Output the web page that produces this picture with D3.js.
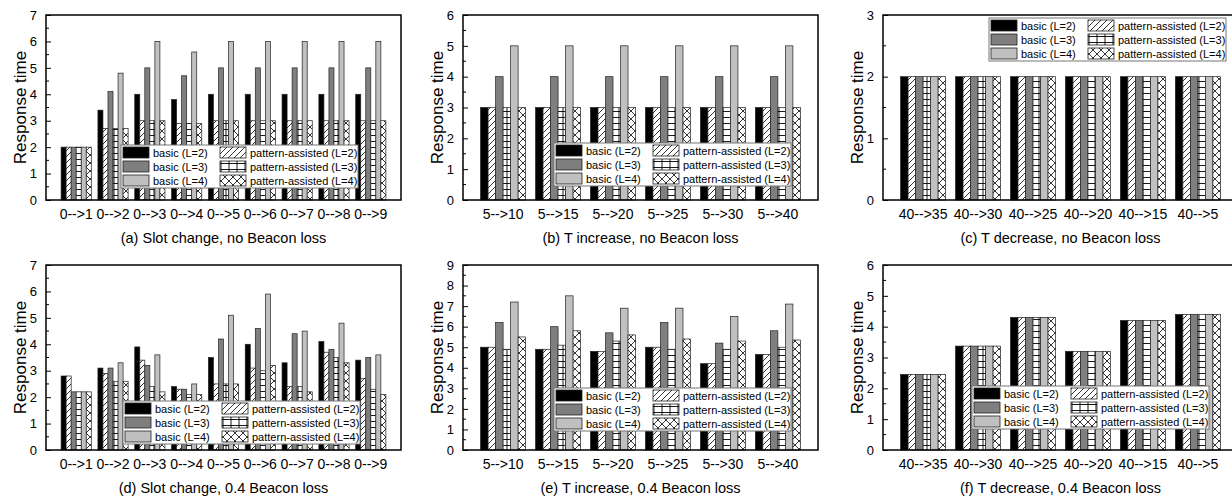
<!DOCTYPE html>
<html>
<head>
<meta charset="utf-8">
<title>response time bars</title>
<script src="https://cdn.jsdelivr.net/npm/d3@7"></script>
<style>
  body{margin:0;background:#fff;}
  text{font-family:Arial,"Liberation Sans",sans-serif;fill:#000;}
</style>
</head>
<body>
<div id="container"></div>
<script>
// series, in the order the bars stand inside a group
var seriesNames = ["basic (L=2)","pattern-assisted (L=2)","basic (L=3)","pattern-assisted (L=3)","basic (L=4)","pattern-assisted (L=4)"];

var slotCats = ["0-->1","0-->2","0-->3","0-->4","0-->5","0-->6","0-->7","0-->8","0-->9"];
var incCats  = ["5-->10","5-->15","5-->20","5-->25","5-->30","5-->40"];
var decCats  = ["40-->35","40-->30","40-->25","40-->20","40-->15","40-->5"];

// one row per category: [basic2, pattern2, basic3, pattern3, basic4, pattern4]
var slotNoLoss = [
  [2,2,2,2,2,2],
  [3.4,2.7,4.1,2.7,4.8,2.7],
  [4,3,5,3,6,3],
  [3.8,2.9,4.7,2.9,5.6,2.9],
  [4,3,5,3,6,3],
  [4,3,5,3,6,3],
  [4,3,5,3,6,3],
  [4,3,5,3,6,3],
  [4,3,5,3,6,3]
];
var incNoLoss = [
  [3,3,4,3,5,3],
  [3,3,4,3,5,3],
  [3,3,4,3,5,3],
  [3,3,4,3,5,3],
  [3,3,4,3,5,3],
  [3,3,4,3,5,3]
];
var decNoLoss = [
  [2,2,2,2,2,2],
  [2,2,2,2,2,2],
  [2,2,2,2,2,2],
  [2,2,2,2,2,2],
  [2,2,2,2,2,2],
  [2,2,2,2,2,2]
];
var slotLoss = [
  [2.8,2.8,2.2,2.2,2.2,2.2],
  [3.1,2.9,3.1,2.6,3.3,2.6],
  [3.9,3.4,3.2,2.4,3.6,2.2],
  [2.4,2.3,2.3,2.1,2.5,2.1],
  [3.5,2.5,4.2,2.5,5.1,2.5],
  [4.0,3.1,4.6,3.0,5.9,3.2],
  [3.3,2.4,4.4,2.4,4.5,2.2],
  [4.1,3.7,3.8,3.5,4.8,3.3],
  [3.4,2.7,3.5,2.3,3.6,2.1]
];
var incLoss = [
  [5.0,5.0,6.2,4.9,7.2,5.5],
  [4.9,4.9,6.0,5.1,7.5,5.8],
  [4.8,4.8,5.7,5.3,6.9,5.6],
  [5.0,5.0,6.2,4.9,6.9,5.4],
  [4.2,4.2,5.2,4.9,6.5,5.3],
  [4.65,4.65,5.8,5.0,7.1,5.35]
];
var decLoss = [
  [2.45,2.45,2.45,2.45,2.45,2.45],
  [3.37,3.37,3.37,3.37,3.37,3.37],
  [4.3,4.3,4.3,4.3,4.3,4.3],
  [3.2,3.2,3.2,3.2,3.2,3.2],
  [4.2,4.2,4.2,4.2,4.2,4.2],
  [4.4,4.4,4.4,4.4,4.4,4.4]
];

var fills = ["#000","url(#hatch)","#7f7f7f","url(#grid)","#c0c0c0","url(#cross)"];

var panels = [
  {cats:slotCats, vals:slotNoLoss, ymax:7, title:"(a) Slot change, no Beacon loss", x:46,  y:15,  outer:0.41, lx:121, ly:145},
  {cats:incCats,  vals:incNoLoss,  ymax:6, title:"(b) T increase, no Beacon loss",  x:463, y:15,  outer:0.32, lx:554, ly:143},
  {cats:decCats,  vals:decNoLoss,  ymax:3, title:"(c) T decrease, no Beacon loss",  x:883, y:15,  outer:0.32, lx:989, ly:18},
  {cats:slotCats, vals:slotLoss,   ymax:7, title:"(d) Slot change, 0.4 Beacon loss", x:46,  y:265, outer:0.41, lx:123, ly:401},
  {cats:incCats,  vals:incLoss,    ymax:9, title:"(e) T increase, 0.4 Beacon loss",  x:463, y:265, outer:0.32, lx:554, ly:388},
  {cats:decCats,  vals:decLoss,    ymax:6, title:"(f) T decrease, 0.4 Beacon loss",  x:883, y:265, outer:0.32, lx:972, ly:386}
];

var W = 355, H = 185;

var svg = d3.select("#container").append("svg")
  .attr("width",1232).attr("height",497);

// fill patterns
var defs = svg.append("defs");
var p1 = defs.append("pattern").attr("id","hatch").attr("patternUnits","userSpaceOnUse").attr("width",6).attr("height",6);
p1.append("rect").attr("width",6).attr("height",6).attr("fill","#fff");
p1.append("path").attr("d","M0,6L6,0M-1,1L1,-1M5,7L7,5").attr("stroke","#000").attr("stroke-width",0.8);
var p2 = defs.append("pattern").attr("id","grid").attr("patternUnits","userSpaceOnUse").attr("width",8).attr("height",6);
p2.append("rect").attr("width",8).attr("height",6).attr("fill","#fff");
p2.append("path").attr("d","M0,0.5H8M4,0V6").attr("stroke","#000").attr("stroke-width",0.9);
var p3 = defs.append("pattern").attr("id","cross").attr("patternUnits","userSpaceOnUse").attr("width",8).attr("height",8);
p3.append("rect").attr("width",8).attr("height",8).attr("fill","#fff");
p3.append("path").attr("d","M0,0L8,8M8,0L0,8").attr("stroke","#000").attr("stroke-width",0.8);

panels.forEach(function(p){
  var g = svg.append("g").attr("transform","translate("+p.x+","+p.y+")");

  var x0 = d3.scaleBand().domain(p.cats).range([0,W]).paddingInner(0.18).paddingOuter(p.outer);
  var x1 = d3.scaleBand().domain(d3.range(seriesNames.length)).range([0,x0.bandwidth()]);
  var y = d3.scaleLinear().domain([0,p.ymax]).range([H,0]);

  // bars
  p.cats.forEach(function(c,i){
    g.selectAll(null).data(p.vals[i]).enter().append("rect")
      .attr("x",function(d,j){return x0(c)+x1(j);})
      .attr("y",function(d){return y(d);})
      .attr("width",x1.bandwidth())
      .attr("height",function(d){return H-y(d);})
      .attr("fill",function(d,j){return fills[j];})
      .attr("stroke","#222")
      .attr("stroke-width",0.7);
  });

  // y axis, ticks pointing in
  var yAxis = d3.axisLeft(y).ticks(p.ymax).tickSizeInner(-5).tickSizeOuter(0).tickPadding(9);
  var ya = g.append("g").call(yAxis);
  ya.select(".domain").remove();
  ya.selectAll(".tick line").attr("stroke","#000").attr("stroke-width",1);
  ya.selectAll(".tick text").style("font-size","13px").attr("fill","#000");
  var minor = d3.range(0.5,p.ymax,1);
  g.selectAll(null).data(minor).enter().append("line")
    .attr("x1",0).attr("x2",3).attr("y1",function(d){return y(d);}).attr("y2",function(d){return y(d);})
    .attr("stroke","#000");

  // category labels
  g.selectAll(null).data(p.cats).enter().append("text")
    .attr("x",function(d){return x0(d)+x0.bandwidth()/2;})
    .attr("y",H+19)
    .attr("text-anchor","middle")
    .style("font-size","14px")
    .text(function(d){return d;});

  // frame
  g.append("rect").attr("width",W).attr("height",H)
    .attr("fill","none").attr("stroke","#000").attr("stroke-width",1.5);

  g.append("text")
    .attr("transform","rotate(-90)")
    .attr("x",-H/2).attr("y",-20)
    .attr("text-anchor","middle")
    .style("font-size","17px")
    .text("Response time");

  g.append("text")
    .attr("x",W/2).attr("y",H+43)
    .attr("text-anchor","middle")
    .style("font-size","14.5px")
    .text(p.title);

  // legend
  var lg = svg.append("g").attr("transform","translate("+p.lx+","+p.ly+")");
  lg.append("rect").attr("width",237).attr("height",43)
    .attr("fill","#fff").attr("stroke","#777").attr("stroke-width",1);
  seriesNames.forEach(function(s,j){
    var col = j%2, row = Math.floor(j/2);
    var sx = col==0 ? 2 : 99;
    lg.append("rect").attr("x",sx).attr("y",2+row*14).attr("width",26).attr("height",11)
      .attr("fill",fills[j]).attr("stroke","#222").attr("stroke-width",0.8);
    lg.append("text").attr("x",sx+30).attr("y",2+row*14+10)
      .style("font-size","11px").text(s);
  });
});
</script>
</body>
</html>
